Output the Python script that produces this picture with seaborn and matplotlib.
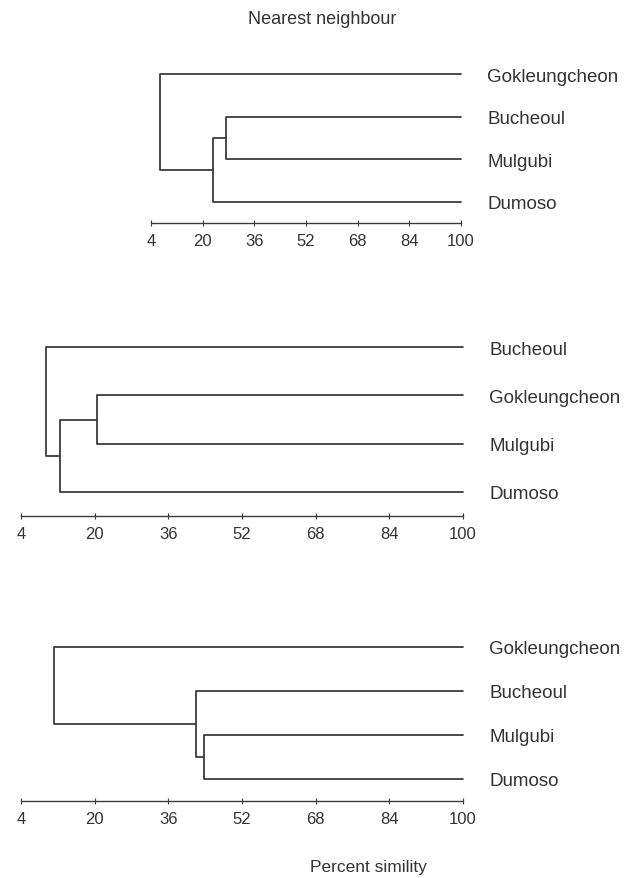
import numpy as np
import pandas as pd
import matplotlib
matplotlib.use("Agg")
import matplotlib.pyplot as plt
import seaborn as sns

# leaf order (top to bottom) for each dendrogram
top_leaves = ["Gokleungcheon", "Bucheoul", "Mulgubi", "Dumoso"]
mid_leaves = ["Bucheoul", "Gokleungcheon", "Mulgubi", "Dumoso"]
bot_leaves = ["Gokleungcheon", "Bucheoul", "Mulgubi", "Dumoso"]

# merges: (child a, child b, percent similarity), new clusters numbered from 4
top_merges = [(1, 2, 27.3), (4, 3, 23.1), (0, 5, 6.9)]
mid_merges = [(1, 2, 20.5), (4, 3, 12.5), (0, 5, 9.4)]
bot_merges = [(2, 3, 43.8), (1, 4, 42.0), (0, 5, 11.2)]

ticks = [4, 20, 36, 52, 68, 84, 100]

title = "Nearest neighbour"
xlab = "Percent simility"

line_c = "#3c3c3c"
text_c = "#333333"

sns.set_theme(style="white")
plt.rcParams["font.family"] = ["Liberation Sans", "DejaVu Sans"]


def link_table(merges, n=4):
    # each merge becomes one bracket shaped polyline
    pos = {i: (float(i), 100.0) for i in range(n)}
    rows = []
    for k, (a, b, h) in enumerate(merges):
        ya, ha = pos[a]
        yb, hb = pos[b]
        for x, y in [(ha, ya), (h, ya), (h, yb), (hb, yb)]:
            rows.append({"link": k, "x": x, "y": y})
        pos[n + k] = ((ya + yb) / 2, h)
    return pd.DataFrame(rows)


W, H = 636, 879
fig = plt.figure(figsize=(W / 100, H / 100), dpi=100)

# panel boxes in pixels: left, top, right, bottom
boxes = [(151, 54, 461, 224), (21, 324, 463, 517), (21, 626, 463, 802)]
panels = [(top_leaves, top_merges), (mid_leaves, mid_merges), (bot_leaves, bot_merges)]

for (l, t, r, b), (leaves, merges) in zip(boxes, panels):
    ax = fig.add_axes([l / W, 1 - b / H, (r - l) / W, (b - t) / H])
    df = link_table(merges)
    sns.lineplot(data=df, x="x", y="y", units="link", estimator=None, sort=False,
                 color=line_c, lw=1.3, ax=ax)
    for line in ax.lines:
        line.set_clip_on(False)
    ax.set_xlim(4, 100)
    ax.set_ylim(3.5, -0.5)
    ax.set_xlabel("")
    ax.set_ylabel("")
    for s in ["left", "top", "right"]:
        ax.spines[s].set_visible(False)
    ax.spines["bottom"].set_color(line_c)
    ax.spines["bottom"].set_linewidth(1.0)
    ax.set_xticks(ticks)
    ax.tick_params(axis="x", direction="inout", length=4, width=0.8, color=line_c,
                   labelsize=12, labelcolor=text_c, pad=5, bottom=True)
    ax.yaxis.tick_right()
    ax.set_yticks(range(len(leaves)))
    ax.set_yticklabels(leaves)
    ax.tick_params(axis="y", length=0, pad=19, labelsize=13.5, labelcolor=text_c)
    ax.grid(False)

fig.text(322 / W, 1 - 20 / H, title, ha="center", va="center", fontsize=13, color=text_c)
fig.text(368 / W, 1 - 868 / H, xlab, ha="center", va="center", fontsize=12.5, color=text_c)

fig.savefig("out.png", dpi=100)
